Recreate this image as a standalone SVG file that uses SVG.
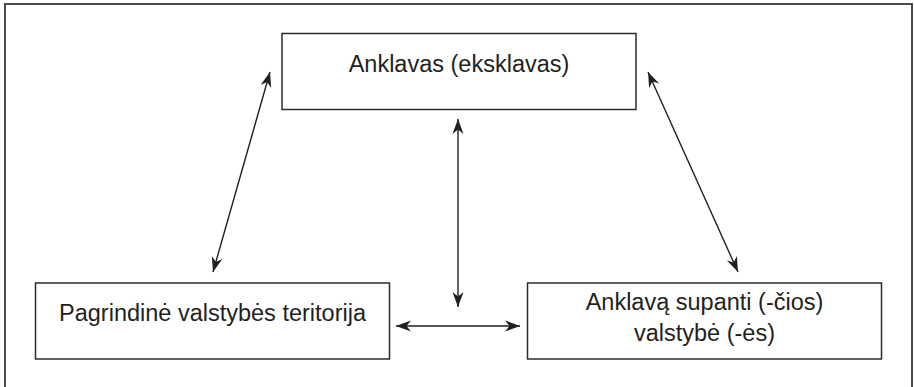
<svg xmlns="http://www.w3.org/2000/svg" width="914" height="387" viewBox="0 0 914 387">
  <style>
    .frame { fill: #ffffff; stroke: #4a4a4a; stroke-width: 2; }
    .box { fill: #ffffff; stroke: #2b2b2b; stroke-width: 1.5; }
    .lbl { font-family: "Liberation Sans", Arial, Helvetica, sans-serif; font-size: 23.5px; fill: #231f20; text-anchor: middle; }
    .conn { stroke: #231f20; stroke-width: 1.4; fill: none; marker-start: url(#arr); marker-end: url(#arr); }
  </style>
  <defs>
    <marker id="arr" markerUnits="userSpaceOnUse" viewBox="-15 -7 16 14" refX="0" refY="0" markerWidth="16" markerHeight="14" orient="auto-start-reverse">
      <path d="M0,0 L-15,-5.5 L-10.5,0 L-15,5.5 Z" fill="#231f20"/>
    </marker>
  </defs>
  <rect class="frame" x="5" y="4" width="907" height="400"/>
  <g id="node-anklavas">
    <rect class="box" x="282" y="33.5" width="354" height="76"/>
    <text class="lbl" x="459" y="72">Anklavas (eksklavas)</text>
  </g>
  <g id="node-pagrindine">
    <rect class="box" x="35.5" y="283" width="354" height="76"/>
    <text class="lbl" x="212.5" y="321">Pagrindinė valstybės teritorija</text>
  </g>
  <g id="node-supanti">
    <rect class="box" x="527.5" y="283" width="354" height="76"/>
    <text class="lbl" x="704.5" y="310">Anklavą supanti (-čios)</text>
    <text class="lbl" x="704.5" y="341">valstybė (-ės)</text>
  </g>
  <g id="connectors">
    <line class="conn" x1="270" y1="72" x2="213" y2="272"/>
    <line class="conn" x1="648" y1="72" x2="738" y2="272"/>
    <line class="conn" x1="458" y1="119" x2="458" y2="307"/>
    <line class="conn" x1="396" y1="326" x2="520" y2="326"/>
  </g>
</svg>
